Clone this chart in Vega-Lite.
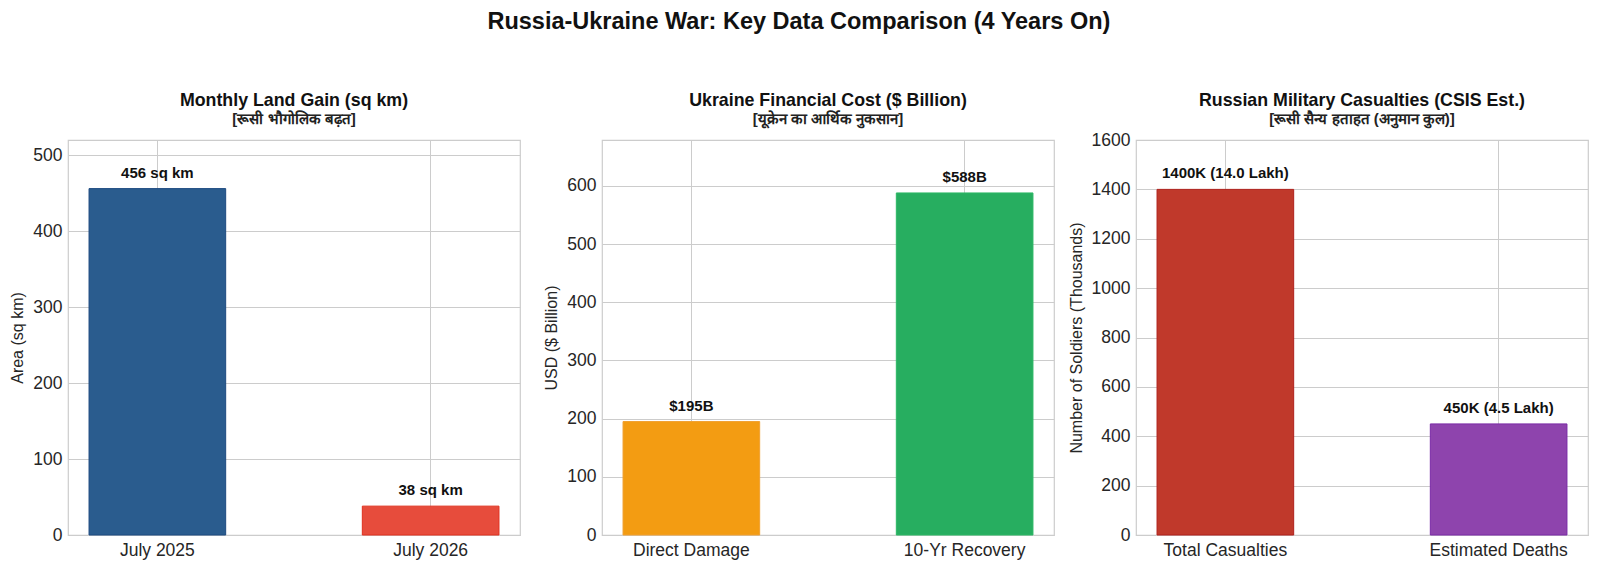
{
  "$schema": "https://vega.github.io/schema/vega-lite/v6.json",
  "background": "white",
  "padding": {"left": 9, "top": 10, "right": 11, "bottom": 10},
  "title": {
    "text": "Russia-Ukraine War: Key Data Comparison (4 Years On)",
    "fontSize": 23.5,
    "fontWeight": "bold",
    "font": "Liberation Sans",
    "color": "#111111",
    "anchor": "middle",
    "frame": "bounds",
    "offset": 58
  },
  "config": {
    "font": "Liberation Sans",
    "view": {"stroke": "#cccccc", "strokeWidth": 1.2},
    "axis": {
      "labelFont": "Liberation Sans",
      "labelFontSize": 17.5,
      "labelColor": "#262626",
      "titleFont": "Liberation Sans",
      "titleFontSize": 16,
      "titleFontWeight": "normal",
      "titleColor": "#262626",
      "domain": false,
      "ticks": false,
      "grid": true,
      "gridColor": "#cccccc",
      "gridWidth": 1,
      "labelPadding": 6,
      "titlePadding": 7
    },
    "title": {
      "font": "Liberation Sans",
      "fontSize": 17.8,
      "fontWeight": "bold",
      "color": "#111111",
      "subtitleFont": "Liberation Sans",
      "subtitleFontSize": 15,
      "subtitleFontWeight": "bold",
      "subtitleColor": "#222222",
      "subtitlePadding": 2,
      "offset": 13,
      "anchor": "middle"
    },
    "text": {"font": "Liberation Sans", "fontSize": 15, "fontWeight": "bold", "color": "#111111"}
  },
  "datasets": {
    "land": [
      {"period": "July 2025", "area": 456, "label": "456 sq km"},
      {"period": "July 2026", "area": 38, "label": "38 sq km"}
    ],
    "cost": [
      {"category": "Direct Damage", "usd": 195, "label": "$195B"},
      {"category": "10-Yr Recovery", "usd": 588, "label": "$588B"}
    ],
    "casualties": [
      {"category": "Total Casualties", "soldiers": 1400, "label": "1400K (14.0 Lakh)"},
      {"category": "Estimated Deaths", "soldiers": 450, "label": "450K (4.5 Lakh)"}
    ]
  },
  "spacing": 22,
  "resolve": {"scale": {"color": "independent", "stroke": "independent"}},
  "hconcat": [
    {
      "data": {"name": "land"},
      "width": 452,
      "height": 395,
      "title": {"text": "Monthly Land Gain (sq km)", "subtitle": "[रूसी भौगोलिक बढ़त]", "frame": "group"},
      "encoding": {
        "x": {
          "field": "period",
          "type": "nominal",
          "sort": null,
          "scale": {"paddingInner": 0.5, "paddingOuter": 0.077},
          "axis": {"title": null, "labelAngle": 0, "bandPosition": 0.5}
        },
        "y": {
          "field": "area",
          "type": "quantitative",
          "scale": {"domain": [0, 520], "nice": false},
          "axis": {"title": "Area (sq km)", "format": "d", "values": [0, 100, 200, 300, 400, 500]}
        }
      },
      "layer": [
        {
          "mark": {"type": "bar", "strokeWidth": 1},
          "encoding": {
            "color": {"field": "period", "type": "nominal", "sort": null, "legend": null,
              "scale": {"range": ["#2a5c8e", "#e74c3c"]}},
            "stroke": {"field": "period", "type": "nominal", "sort": null, "legend": null,
              "scale": {"range": ["#1d4a80", "#e0301e"]}}
          }
        },
        {
          "mark": {"type": "text", "baseline": "alphabetic", "dy": -11},
          "encoding": {"text": {"field": "label"}}
        }
      ]
    },
    {
      "spacing": 12,
      "resolve": {"scale": {"color": "independent", "stroke": "independent"}},
      "hconcat": [
        {
          "data": {"name": "cost"},
          "width": 452,
          "height": 395,
          "title": {"text": "Ukraine Financial Cost ($ Billion)", "subtitle": "[यूक्रेन का आर्थिक नुकसान]", "frame": "group"},
          "encoding": {
            "x": {
              "field": "category",
              "type": "nominal",
              "sort": null,
              "scale": {"paddingInner": 0.5, "paddingOuter": 0.077},
              "axis": {"title": null, "labelAngle": 0, "bandPosition": 0.5}
            },
            "y": {
              "field": "usd",
              "type": "quantitative",
              "scale": {"domain": [0, 679], "nice": false},
              "axis": {"title": "USD ($ Billion)", "format": "d", "values": [0, 100, 200, 300, 400, 500, 600]}
            }
          },
          "layer": [
            {
              "mark": {"type": "bar", "strokeWidth": 1},
              "encoding": {
                "color": {"field": "category", "type": "nominal", "sort": null, "legend": null,
                  "scale": {"range": ["#f39c12", "#27ae60"]}},
                "stroke": {"field": "category", "type": "nominal", "sort": null, "legend": null,
                  "scale": {"range": ["#f0a030", "#2cb865"]}}
              }
            },
            {
              "mark": {"type": "text", "baseline": "alphabetic", "dy": -11},
              "encoding": {"text": {"field": "label"}}
            }
          ]
        },
        {
          "data": {"name": "casualties"},
          "width": 452,
          "height": 395,
          "title": {"text": "Russian Military Casualties (CSIS Est.)", "subtitle": "[रूसी सैन्य हताहत (अनुमान कुल)]", "frame": "group", "offset": 4},
          "encoding": {
            "x": {
              "field": "category",
              "type": "nominal",
              "sort": null,
              "scale": {"paddingInner": 0.5, "paddingOuter": 0.077},
              "axis": {"title": null, "labelAngle": 0, "bandPosition": 0.5}
            },
            "y": {
              "field": "soldiers",
              "type": "quantitative",
              "scale": {"domain": [0, 1600], "nice": false},
              "axis": {"title": "Number of Soldiers (Thousands)", "format": "d", "values": [0, 200, 400, 600, 800, 1000, 1200, 1400, 1600]}
            }
          },
          "layer": [
            {
              "mark": {"type": "bar", "strokeWidth": 1},
              "encoding": {
                "color": {"field": "category", "type": "nominal", "sort": null, "legend": null,
                  "scale": {"range": ["#c0392b", "#8e44ad"]}},
                "stroke": {"field": "category", "type": "nominal", "sort": null, "legend": null,
                  "scale": {"range": ["#b0201c", "#7a2aa6"]}}
              }
            },
            {
              "mark": {"type": "text", "baseline": "alphabetic", "dy": -11},
              "encoding": {"text": {"field": "label"}}
            }
          ]
        }
      ]
    }
  ]
}
